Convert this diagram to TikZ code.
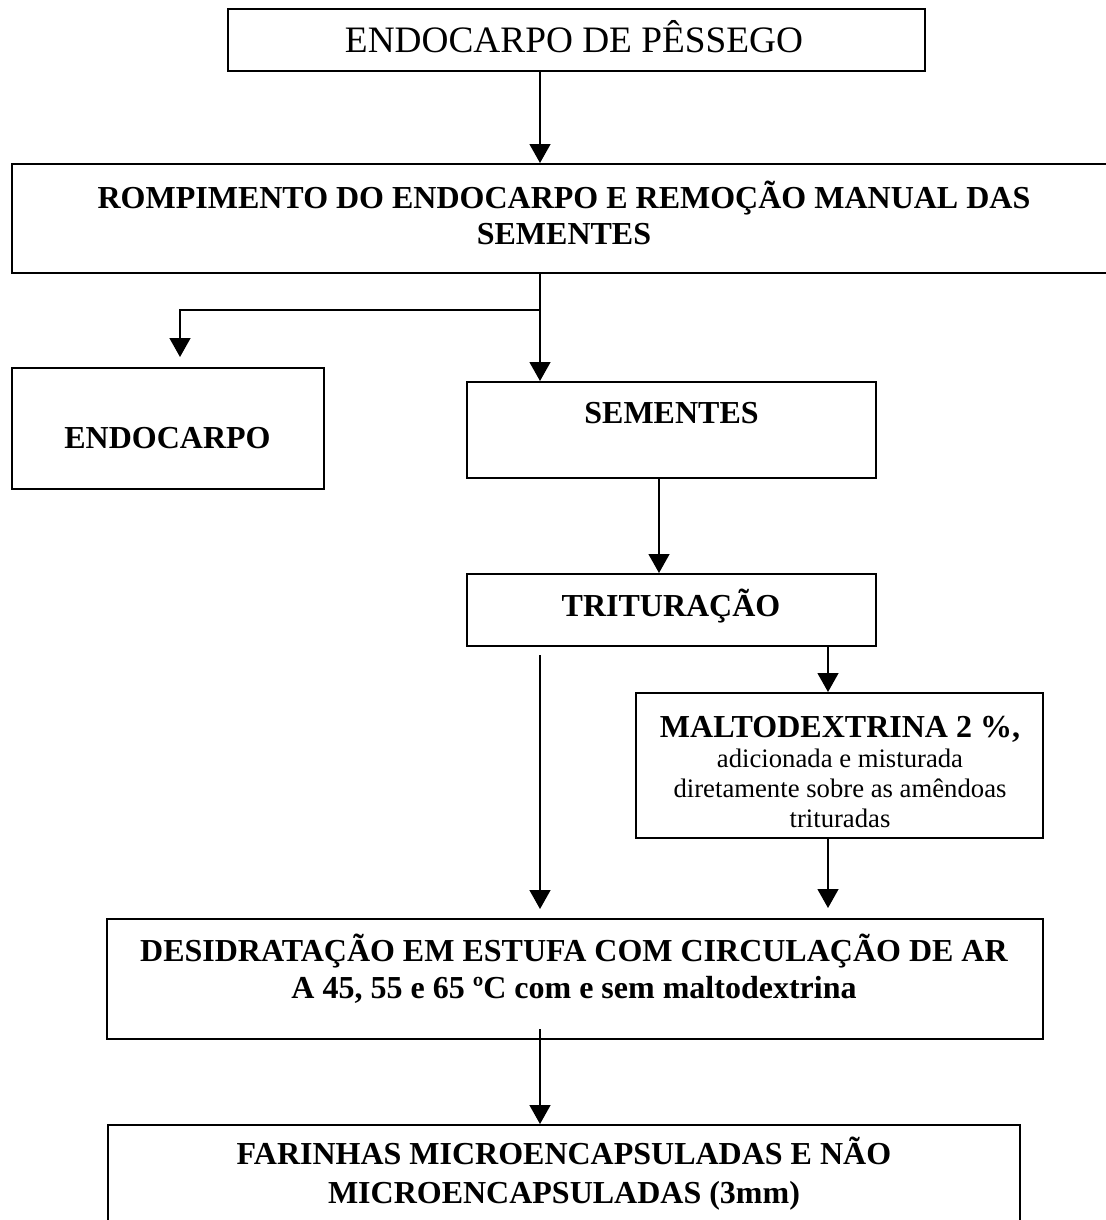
\documentclass[tikz,border=0pt]{standalone}
\usepackage{fontspec}
\setmainfont{Liberation Serif}
\usetikzlibrary{arrows.meta,fit}
\begin{document}
\begin{tikzpicture}[x=1pt,y=-1pt,
  box/.style={draw,line width=2pt,inner sep=0pt},
  ftop/.style={font=\fontsize{37.3}{43}\selectfont},
  fbold/.style={font=\fontsize{32}{36}\selectfont\bfseries},
  lbl/.style={anchor=base,align=center,inner sep=0pt},
  ln/.style={line width=1.4pt},
  arr/.style={line width=1.4pt,-{Triangle[length=19pt,width=21pt]}}]
\useasboundingbox (0,0) rectangle (1105,1220);
\fill[white] (0,0) rectangle (1105,1220);
% boxes
\node[box, fit={(228,9)(925,71)}] (top) {};
\node[box, fit={(12,164)(1116,273)}] (rom) {};
\node[box, fit={(12,368)(324,489)}] (endo) {};
\node[box, fit={(467,382)(876,478)}] (sem) {};
\node[box, fit={(467,574)(876,646)}] (tri) {};
\node[box, fit={(636,693)(1043,838)}] (mal) {};
\node[box, fit={(107,919)(1043,1039)}] (des) {};
\node[box, fit={(108,1125)(1020,1240)}] (far) {};
% texts (multi-line nodes: base = baseline of last line)
\node[lbl,ftop] (topT) at (574,53) {ENDOCARPO DE PÊSSEGO};
\node[lbl,fbold] (romT) at (564,244) {ROMPIMENTO DO ENDOCARPO E REMOÇÃO MANUAL DAS\\SEMENTES};
\node[lbl,fbold] (endoT) at (167.5,448) {ENDOCARPO};
\node[lbl,fbold] (semT) at (671.5,423) {SEMENTES};
\node[lbl,fbold] (triT) at (671,616) {TRITURAÇÃO};
\node[lbl,font=\fontsize{26.7}{30}\selectfont] (malT) at (840,827)
  {{\fontsize{32}{30}\selectfont\bfseries MALTODEXTRINA 2 \%,}\\adicionada e misturada\\diretamente sobre as amêndoas\\trituradas};
\node[lbl,font=\fontsize{32}{37}\selectfont\bfseries] (desT) at (574,998)
  {DESIDRATAÇÃO EM ESTUFA COM CIRCULAÇÃO DE AR\\A 45, 55 e 65 ºC com e sem maltodextrina};
\node[lbl,font=\fontsize{32}{39}\selectfont\bfseries] (farT) at (564,1203)
  {FARINHAS MICROENCAPSULADAS E NÃO\\MICROENCAPSULADAS (3mm)};
% helper coordinates
\coordinate (mx) at (540,0);
\coordinate (sx) at (659,0);
\coordinate (rx) at (828,0);
\coordinate (br) at (540,310);
\coordinate (etip) at (180,357);
\coordinate (l1) at (540,655);
\coordinate (l2) at (540,909);
\coordinate (m2) at (828,908);
\coordinate (d1) at (540,1029);
% connectors
\draw[arr] (top.south -| mx) -- (rom.north -| mx);
\draw[arr] (rom.south -| mx) -- (sem.north -| mx);
\draw[arr] (br) -| (etip);
\draw[arr] (sem.south -| sx) -- (tri.north -| sx);
\draw[arr] (l1) -- (l2);
\draw[arr] (tri.south -| rx) -- (mal.north -| rx);
\draw[arr] (mal.south -| rx) -- (m2);
\draw[arr] (d1) -- (far.north -| mx);
\end{tikzpicture}
\end{document}
